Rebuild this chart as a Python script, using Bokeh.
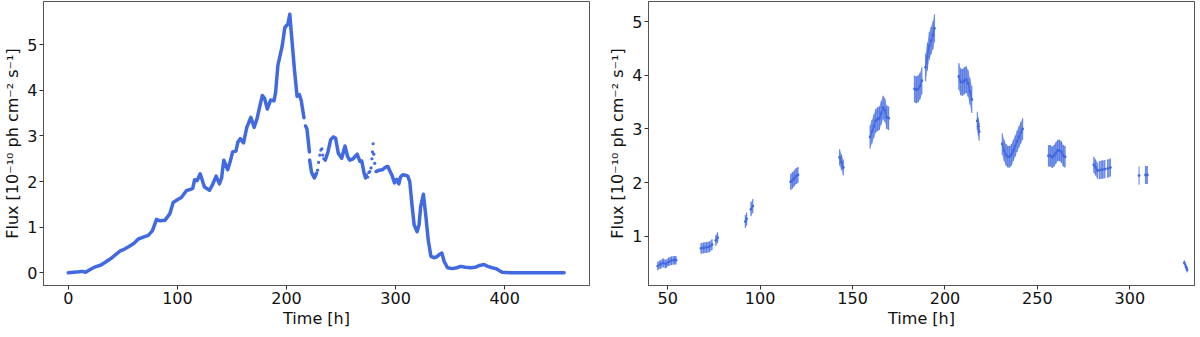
import numpy as np
from bokeh.plotting import figure
from bokeh.layouts import row
from bokeh.models import Range1d, FixedTicker
from bokeh.embed import file_html
from bokeh.resources import INLINE

nan = float("nan")
COLOR = "#4169E1"

# ---------------- Left panel: continuous light curve ----------------
t_curve = [0, 5, 10, 12.7, 15.8, 20, 24.8, 30, 33.9, 40, 47.6, 50, 55.2, 60, 64.2, 70, 73.3, 77,
           80.9, 84, 88.5, 93, 96.1, 100, 103.6, 108.2, 112, 114, 115.8, 118, 120.9, 124.8, 129.4,
           132, 135.5, 138.5, 140.5, 142.5, 146.1, 148.5, 150.6, 153.6, 155.5, 157.6, 160.6, 163.6,
           167.3, 170.3, 173, 175.5, 177.9, 180, 182.4, 185.5, 188.5, 190, 192.1, 194, 196.1, 198.5,
           201.2, 203, 205, 207.3, 209.7, 211.8, 213.5, 216, nan, 217.5, 218.8, 221, nan, 221.2, 223,
           225.5, 227.5, nan, 235.5, 238, 240.5, 243, 245, 247.5, 250.6, 253.6, 256, 258, 261, 264.8,
           267.3, 269, 271, 272.5, nan, 282.1, 285, 288, 291, 293, 295, 297, 299, 301, 303, 304.5,
           306.6, 309, 311.2, 313, 315, 317, 319.7, 321.5, 323, 325.5, 327.5, 330, 332.4, 335, 338,
           340, 342.4, 344.5, 347.6, 352, 356, 359.7, 364, 368.8, 373, 377, 381, 384.5, 388.5, 392,
           395, 397.6, 405, 411, 430, 454.5]
f_curve = [0.0, 0.01, 0.02, 0.03, 0.01, 0.07, 0.13, 0.17, 0.23, 0.33, 0.48, 0.50, 0.57, 0.64, 0.74,
           0.79, 0.82, 0.92, 1.17, 1.14, 1.15, 1.29, 1.54, 1.60, 1.65, 1.80, 1.83, 1.85, 2.04, 2.02,
           2.17, 1.88, 1.81, 1.92, 2.12, 1.95, 2.08, 2.47, 2.26, 2.45, 2.65, 2.67, 2.87, 2.94, 2.85,
           3.19, 3.41, 3.19, 3.38, 3.65, 3.89, 3.82, 3.59, 3.79, 3.77, 3.95, 4.55, 4.75, 4.98, 5.38,
           5.45, 5.67, 5.10, 4.45, 3.87, 3.91, 3.78, 3.40, nan, 3.22, 3.15, 2.65, nan, 2.47, 2.20,
           2.08, 2.18, nan, 2.47, 2.65, 2.92, 2.98, 2.95, 2.62, 2.51, 2.78, 2.55, 2.47, 2.50, 2.60,
           2.44, 2.45, 2.20, 2.08, nan, 2.22, 2.25, 2.26, 2.32, 2.33, 2.22, 2.12, 1.97, 2.05, 1.95,
           2.10, 2.15, 2.14, 2.12, 2.00, 1.50, 1.05, 0.90, 1.05, 1.45, 1.72, 1.30, 0.70, 0.36, 0.33,
           0.35, 0.40, 0.43, 0.25, 0.11, 0.09, 0.11, 0.14, 0.12, 0.11, 0.12, 0.16, 0.18, 0.14, 0.11,
           0.09, 0.05, 0.01, 0.0, 0.0, 0.0, 0.0]

# sparse (dotted-looking) stretches of the curve
t_sparse = [228.5, 229.4, 230.5, 231.5, 232.4, 233.2, 234.2,
            273.3, 274.5, 275.5, 276.4, 277.5, 278.3, 278.8, 279.4, 280.0, 280.9]
f_sparse = [2.25, 2.42, 2.58, 2.69, 2.72, 2.58, 2.50,
            2.15, 2.10, 2.20, 2.22, 2.30, 2.50, 2.65, 2.83, 2.60, 2.40]

# ---------------- Right panel: binned fluxes with uncertainties ----------------
seg_t = [
    [44.6, 46, 47.5, 49, 50.5, 52, 53.5, 54.5],
    [68, 69.5, 71, 72.5, 74],
    [76, 77],
    [92, 92.7],
    [95, 96],
    [116.5, 117.5, 118.5, 119.5, 120.5],
    [143, 144, 145],
    [159.5, 160.5, 161.5, 162.5, 163.5, 164.5, 165.5, 166.5, 167.5, 168.5, 169.5],
    [183.5, 184.5, 185.5, 186.5, 187.5],
    [189.5, 190.5, 191.5, 192.5, 193.5, 194.3],
    [207.5, 208.5, 209.5, 210.5, 211.5, 212.5, 213.5, 214.5],
    [217.5, 218, 218.5],
    [231, 232, 233, 234, 235, 236, 237, 238, 239, 240, 241, 242],
    [256, 257, 258, 259, 260, 261, 262, 263, 264, 265],
    [280.5, 281.5, 282.5],
    [283.5, 285, 286.5],
    [288, 289.5],
    [305],
    [308.5, 309.5],
    [329.5, 330.5, 331],
]
seg_f = [
    [0.44, 0.47, 0.50, 0.48, 0.52, 0.54, 0.55, 0.55],
    [0.77, 0.78, 0.79, 0.80, 0.84],
    [0.92, 0.97],
    [1.27, 1.32],
    [1.50, 1.56],
    [2.01, 2.04, 2.08, 2.12, 2.14],
    [2.47, 2.38, 2.28],
    [2.85, 2.95, 3.05, 3.15, 3.18, 3.20, 3.30, 3.40, 3.35, 3.22, 3.20],
    [3.75, 3.73, 3.75, 3.80, 3.90],
    [4.15, 4.35, 4.55, 4.65, 4.75, 4.88],
    [3.98, 3.88, 3.87, 3.90, 3.92, 3.85, 3.70, 3.55],
    [3.15, 3.05, 2.95],
    [2.72, 2.60, 2.52, 2.48, 2.48, 2.52, 2.60, 2.68, 2.77, 2.85, 2.93, 3.00],
    [2.50, 2.50, 2.47, 2.50, 2.55, 2.60, 2.60, 2.57, 2.50, 2.48],
    [2.33, 2.28, 2.22],
    [2.23, 2.24, 2.25],
    [2.26, 2.28],
    [2.13],
    [2.14, 2.14],
    [0.50, 0.42, 0.37],
]
seg_err = [0.08, 0.10, 0.10, 0.12, 0.13, 0.15, 0.15, 0.22, 0.25, 0.26, 0.25, 0.17, 0.20, 0.20,
           0.15, 0.17, 0.17, 0.17, 0.17, 0.05]

x_ticks_left = [0, 100, 200, 300, 400]
y_ticks_left = [0, 1, 2, 3, 4, 5]
x_ticks_right = [50, 100, 150, 200, 250, 300]
y_ticks_right = [1, 2, 3, 4, 5]

X_LABEL = "Time [h]"
Y_LABEL = "Flux [10\u207b\u00b9\u2070 ph cm\u207b\u00b2 s\u207b\u00b9]"

FONT = "DejaVu Sans"


def style(p, xt, yt):
    p.xgrid.visible = False
    p.ygrid.visible = False
    p.outline_line_color = "#555555"
    p.outline_line_width = 1
    p.background_fill_color = "white"
    p.border_fill_color = "white"
    for ax in (p.xaxis[0], p.yaxis[0]):
        ax.axis_line_color = "#555555"
        ax.major_tick_line_color = "#333333"
        ax.major_tick_out = 4
        ax.major_tick_in = 0
        ax.minor_tick_line_color = None
        ax.major_label_text_font = FONT
        ax.major_label_text_font_size = "16px"
        ax.major_label_text_color = "#111111"
        ax.axis_label_text_font = FONT
        ax.axis_label_text_font_size = "16px"
        ax.axis_label_text_font_style = "normal"
        ax.axis_label_text_color = "#111111"
        ax.major_label_standoff = 2
        ax.axis_label_standoff = 2
    p.xaxis.ticker = FixedTicker(ticks=xt)
    p.yaxis.ticker = FixedTicker(ticks=yt)
    p.xaxis.axis_label = X_LABEL
    p.yaxis.axis_label = Y_LABEL


FW, FH = 546, 284

p1 = figure(frame_width=FW, frame_height=FH, output_backend="svg", toolbar_location=None,
            x_range=Range1d(-22.75, 477.75), y_range=Range1d(-0.28, 5.95),
            min_border_left=10, min_border_right=16, min_border_top=1, min_border_bottom=10)
style(p1, x_ticks_left, y_ticks_left)
p1.line(np.array(t_curve), np.array(f_curve), line_color=COLOR, line_width=3.5, line_join="round",
        line_cap="round")
p1.scatter(t_sparse, f_sparse, size=3.2, color=COLOR, line_color=None)

p2 = figure(frame_width=FW, frame_height=FH, output_backend="svg", toolbar_location=None,
            x_range=Range1d(39.6, 335.0), y_range=Range1d(0.077, 5.38),
            min_border_left=10, min_border_right=2, min_border_top=1, min_border_bottom=10)
style(p2, x_ticks_right, y_ticks_right)
for ts, fs, e in zip(seg_t, seg_f, seg_err):
    ta = np.array(ts, dtype=float)
    fa = np.array(fs, dtype=float)
    if len(ta) > 1:
        p2.varea(x=ta, y1=fa - e, y2=fa + e, fill_color=COLOR, fill_alpha=0.6)
    p2.segment(x0=ta, y0=fa - e, x1=ta, y1=fa + e, line_color=COLOR, line_alpha=0.7, line_width=1.2)
    p2.line(ta, fa, line_color=COLOR, line_width=1.3)
    p2.scatter(ta, fa, size=2.8, color=COLOR, line_color=None)

layout = row(p1, p2, spacing=0)
open("out.html", "w").write(file_html(layout, INLINE))
